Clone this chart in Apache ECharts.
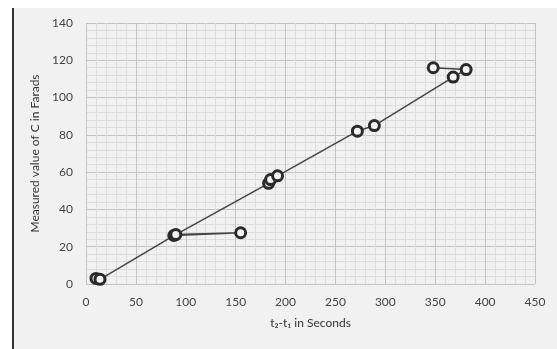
<!DOCTYPE html>
<html>
<head>
<meta charset="utf-8">
<script src="https://cdn.jsdelivr.net/npm/echarts@6/dist/echarts.min.js"></script>
<style>
html,body{margin:0;padding:0;background:#fff;}
#c{width:557px;height:349px;}
</style>
</head>
<body>
<div id="c"></div>
<script>
// Data (in drawing order of the connected line)
var timeValues = [10, 14, 88, 155, 90, 183, 185, 192, 272, 289, 368, 381, 348];
var capValues  = [3, 2.5, 26, 27.5, 26.5, 54, 56, 58, 82, 85, 111, 115, 116];
var xTickLabels = [0, 50, 100, 150, 200, 250, 300, 350, 400, 450];
var yTickLabels = [0, 20, 40, 60, 80, 100, 120, 140];
var xTitle = 't\u2082-t\u2081 in Seconds';
var yTitle = 'Measured value of C in Farads';

var points = timeValues.map(function (t, i) { return [t, capValues[i]]; });

var chart = echarts.init(document.getElementById('c'), null, {renderer: 'canvas'});
var fontFam = 'Lato, "Open Sans", sans-serif';
chart.setOption({
  backgroundColor: '#ffffff',
  animation: false,
  graphic: [
    {type: 'rect', left: 12, top: 8, shape: {width: 545, height: 341}, style: {fill: '#f1f1f1'}, z: -10},
    {type: 'line', shape: {x1: 13, y1: 8, x2: 13, y2: 349}, style: {stroke: '#333', lineWidth: 2}, z: -9}
  ],
  grid: {left: 86, right: 22, top: 23, bottom: 65},
  xAxis: {
    type: 'value', min: xTickLabels[0], max: xTickLabels[xTickLabels.length - 1], interval: 50,
    name: xTitle, nameLocation: 'middle', nameGap: 33,
    nameTextStyle: {color: '#333', fontSize: 12, fontFamily: fontFam},
    axisLine: {show: false}, axisTick: {show: false},
    axisLabel: {color: '#444', fontSize: 12, fontFamily: fontFam, margin: 12},
    splitLine: {show: true, lineStyle: {color: '#c4c4c4', width: 1}},
    minorTick: {show: false, splitNumber: 5},
    minorSplitLine: {show: true, lineStyle: {color: '#dddddd', width: 1}}
  },
  yAxis: {
    type: 'value', min: yTickLabels[0], max: yTickLabels[yTickLabels.length - 1], interval: 20,
    name: yTitle, nameLocation: 'middle', nameGap: 41, nameRotate: 90,
    nameTextStyle: {color: '#333', fontSize: 12, fontFamily: fontFam},
    axisLine: {show: false}, axisTick: {show: false},
    axisLabel: {color: '#444', fontSize: 12, fontFamily: fontFam, margin: 13},
    splitLine: {show: true, lineStyle: {color: '#c4c4c4', width: 1}},
    minorTick: {show: false, splitNumber: 5},
    minorSplitLine: {show: true, lineStyle: {color: '#dddddd', width: 1}}
  },
  series: [{
    type: 'line',
    data: points,
    symbol: 'circle',
    symbolSize: 10,
    showAllSymbol: true,
    lineStyle: {color: '#444', width: 1.5},
    itemStyle: {color: '#f4f4f4', borderColor: '#2a2a2a', borderWidth: 3},
    z: 5
  }]
});
</script>
</body>
</html>
